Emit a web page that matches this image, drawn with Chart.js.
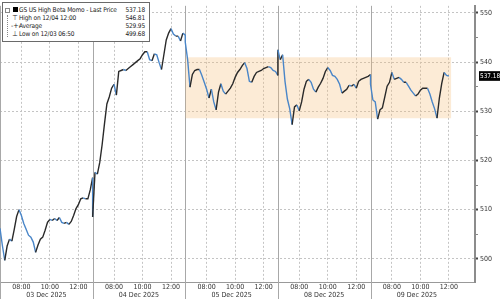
<!DOCTYPE html>
<html>
<head>
<meta charset="utf-8">
<script src="https://cdn.jsdelivr.net/npm/chart.js@4.4.1/dist/chart.umd.min.js"></script>
<style>
  body { margin: 0; background: #fff; }
  #wrap { position: relative; width: 500px; height: 299px; overflow: hidden; }
  canvas { display: block; }
  #legend {
    position: absolute; left: 2px; top: 2px; width: 148px; height: 40px;
    box-sizing: border-box; border: 1px solid #6a6a6a; background: #fff;
    padding: 3px 4px 0 16px;
    font: 6.5px "DejaVu Sans Condensed", "Liberation Sans Narrow", sans-serif; color: #222;
    letter-spacing: -0.15px;
  }
  #legend .row { position: relative; display: flex; height: 8px; line-height: 8px; white-space: nowrap; }
  #legend .lab { flex: 1; }
  #legend .val { text-align: right; }
  #legend .ico { position: absolute; left: -8px; width: 8px; text-align: center; font-size: 7px; letter-spacing: 0; }
  #legend .sq { display: inline-block; width: 5px; height: 5px; background: #000; vertical-align: 0; }
  #tree { position: absolute; left: 4px; top: 12px; width: 4px; height: 22px; border-left: 1px dotted #888; }
  #treebox { position: absolute; left: 2px; top: 5px; width: 3px; height: 3px; border: 1px solid #888; }
</style>
</head>
<body>
<div id="wrap">
  <canvas id="chart" width="500" height="299"></canvas>
  <div id="legend"><div id="tree"></div><div id="treebox"></div></div>
</div>
<script>
// Séance 06:30 - 13:00, un point toutes les 10 minutes
const sessionMinutes = 390;
const stepMinutes = 10;

const dayLabels = ["03 Dec 2025", "04 Dec 2025", "05 Dec 2025", "08 Dec 2025", "09 Dec 2025"];
const timeLabels = ["08:00", "10:00", "12:00"];
const timeOffsets = [90, 210, 330]; // minutes après l'ouverture

const dec03 = [506.2, 502.7, 499.68, 502.6, 504.0, 503.6, 506.0, 508.6, 510.0, 508.8,
  507.2, 506.0, 504.8, 504.4, 503.4, 501.3, 502.8, 504.0, 504.4, 505.8,
  507.4, 508.0, 507.8, 508.2, 507.8, 508.4, 507.4, 507.2, 507.4, 507.0,
  507.6, 508.8, 510.2, 511.0, 512.2, 512.4, 512.2, 512.2, 514.0, 516.5];
const dec04 = [508.5, 517.6, 517.2, 519.6, 523.2, 527.5, 531.5, 532.9, 534.7, 535.5,
  533.3, 538.1, 538.3, 538.5, 538.3, 538.7, 539.1, 539.5, 539.9, 540.3,
  540.7, 541.5, 542.1, 542.1, 540.5, 540.3, 541.7, 541.5, 539.9, 538.5,
  541.5, 544.5, 545.9, 546.81, 545.7, 545.3, 545.3, 544.3, 545.9, 545.5];
const dec05 = [544.1, 540.5, 534.9, 537.5, 538.3, 538.5, 538.5, 537.3, 535.9, 534.5,
  532.7, 534.5, 531.9, 530.3, 533.9, 535.6, 534.1, 533.5, 534.1, 534.7,
  535.6, 536.9, 537.9, 538.5, 539.3, 539.9, 538.7, 536.1, 535.9, 537.1,
  537.9, 538.1, 538.3, 538.7, 538.9, 539.1, 538.9, 538.3, 538.1, 537.3];
const dec08 = [542.5, 540.5, 541.5, 536.1, 532.5, 530.5, 527.3, 530.9, 531.3, 530.1,
  531.9, 534.5, 536.1, 536.5, 535.9, 534.5, 533.9, 534.9, 535.7, 536.7,
  538.1, 538.9, 538.3, 537.3, 537.1, 536.5, 535.5, 533.7, 534.1, 534.5,
  535.3, 535.1, 535.5, 534.7, 536.1, 536.5, 536.7, 536.9, 537.1, 537.5];
const dec09 = [535.5, 532.3, 531.9, 528.4, 530.3, 530.7, 532.9, 535.1, 535.9, 537.9,
  536.5, 536.7, 536.9, 536.5, 535.9, 535.9, 535.1, 534.3, 533.7, 533.1,
  533.5, 534.3, 534.7, 534.7, 534.7, 533.5, 531.9, 530.5, 528.6, 532.7,
  535.7, 537.9, 537.3, 537.18];

// Zone de consolidation (début séance 05/12 -> 09/12 ~12:10)
const bandStart = 780;
const bandEnd = 1900;
const bandHigh = 541.0;
const bandLow = 528.6;

const seriesName = "GS US High Beta Momo - Last Price";
const statHigh = { label: "High on 12/04 12:00", value: "546.81" };
const statAvg = { label: "Average", value: "529.95" };
const statLow = { label: "Low on 12/03 06:50", value: "499.68" };

const days = [dec03, dec04, dec05, dec08, dec09];
const points = [];
days.forEach((prices, d) => {
  prices.forEach((p, i) => points.push({ x: d * sessionMinutes + i * stepMinutes, y: p }));
});
const lastPrice = dec09[dec09.length - 1];
const midDay = sessionMinutes / 2;

// Légende
const legend = document.getElementById("legend");
const rows = [
  ['<span class="sq"></span>', seriesName, lastPrice.toFixed(2)],
  ["&#8868;", statHigh.label, statHigh.value],
  ["-+-", statAvg.label, statAvg.value],
  ["&#8869;", statLow.label, statLow.value],
];
rows.forEach(([ico, lab, val]) => {
  const r = document.createElement("div");
  r.className = "row";
  r.innerHTML = `<span class="ico">${ico}</span><span class="lab">${lab}</span><span class="val">${val}</span>`;
  legend.appendChild(r);
});

const FONT = '"DejaVu Sans Condensed", "Liberation Sans Narrow", sans-serif';
Chart.defaults.font.family = FONT;
Chart.defaults.font.size = 7;
Chart.defaults.color = "#333";

const DARK = "#2a2a2a";
const BLUE = "#4a86c8";

// Séparateurs de jours (traits pleins jusqu'en bas)
const daySeparators = {
  id: "daySeparators",
  beforeDatasetsDraw(chart) {
    const { ctx, chartArea, scales } = chart;
    ctx.save();
    ctx.strokeStyle = "#a8a8a8";
    ctx.lineWidth = 1;
    dayLabels.forEach((_, d) => {
      const px = Math.round(scales.x.getPixelForValue(d * sessionMinutes)) + 0.5;
      ctx.beginPath();
      ctx.moveTo(px, chartArea.top);
      ctx.lineTo(px, chart.height);
      ctx.stroke();
    });
    ctx.restore();
  },
};

const isMid = (v) => v % sessionMinutes === midDay;
const isLast = (c) => !!(c.tick && c.tick.value === lastPrice);

new Chart(document.getElementById("chart").getContext("2d"), {
  type: "line",
  data: {
    datasets: [
      {
        data: points,
        borderColor: DARK,
        borderWidth: 1.4,
        pointRadius: 0,
        tension: 0,
        segment: {
          borderColor: (c) => (c.p1.parsed.y < c.p0.parsed.y ? BLUE : DARK),
        },
      },
      {
        data: [{ x: bandStart, y: bandHigh }, { x: bandEnd, y: bandHigh }],
        borderWidth: 0,
        pointRadius: 0,
        fill: false,
      },
      {
        data: [{ x: bandStart, y: bandLow }, { x: bandEnd, y: bandLow }],
        borderWidth: 0,
        pointRadius: 0,
        fill: "-1",
        backgroundColor: "rgba(245, 190, 120, 0.3)",
      },
    ],
  },
  options: {
    responsive: false,
    animation: false,
    devicePixelRatio: 1,
    layout: { padding: 0 },
    plugins: { legend: { display: false }, tooltip: { enabled: false } },
    scales: {
      x: {
        type: "linear",
        position: "bottom",
        min: 0,
        max: 2000,
        afterBuildTicks: (s) => {
          const t = [];
          days.forEach((_, d) => {
            timeOffsets.forEach((o) => t.push(d * sessionMinutes + o));
            t.push(d * sessionMinutes + midDay);
          });
          s.ticks = t.sort((a, b) => a - b).map((value) => ({ value }));
        },
        afterFit: (s) => { s.height = 17; },
        ticks: {
          autoSkip: false,
          maxRotation: 0,
          padding: 1,
          font: { lineHeight: 1.15 },
          callback: (v) =>
            isMid(v)
              ? ["", dayLabels[Math.floor(v / sessionMinutes)]]
              : timeLabels[timeOffsets.indexOf(v % sessionMinutes)],
        },
        grid: {
          color: (c) => (c.tick && isMid(c.tick.value) ? "rgba(0,0,0,0)" : "#c4c4c4"),
          lineWidth: 1,
          drawTicks: false,
        },
        border: { display: true, color: "#999", width: 1, dash: [2, 2] },
      },
      y: {
        position: "right",
        min: 495.28,
        max: 551.45,
        afterBuildTicks: (s) => {
          s.ticks = [];
          for (let v = 500; v <= 550; v += 5) s.ticks.push({ value: v });
          s.ticks.push({ value: lastPrice });
        },
        afterFit: (s) => { s.width = 25; },
        ticks: {
          autoSkip: false,
          padding: 2,
          callback: (v) => (v === lastPrice ? v.toFixed(2) : v % 10 === 0 ? v : ""),
          color: (c) => (isLast(c) ? "#fff" : "#333"),
          font: (c) => (isLast(c) ? { size: 6.4 } : { size: 7 }),
          showLabelBackdrop: isLast,
          backdropColor: "#000",
          backdropPadding: { top: 1, bottom: 1, left: 1, right: 2 },
        },
        grid: {
          color: (c) => (c.tick && c.tick.value % 10 === 0 ? "#c4c4c4" : "rgba(0,0,0,0)"),
          tickLength: 3,
          tickColor: (c) => (isLast(c) ? "rgba(0,0,0,0)" : c.tick && c.tick.value % 10 === 0 ? "#444" : "#888"),
          tickWidth: (c) => (c.tick && c.tick.value % 10 === 0 ? 2 : 1),
        },
        border: { display: true, color: "#8c8c8c", width: 2, dash: [2, 2] },
      },
    },
  },
  plugins: [daySeparators],
});
</script>
</body>
</html>
